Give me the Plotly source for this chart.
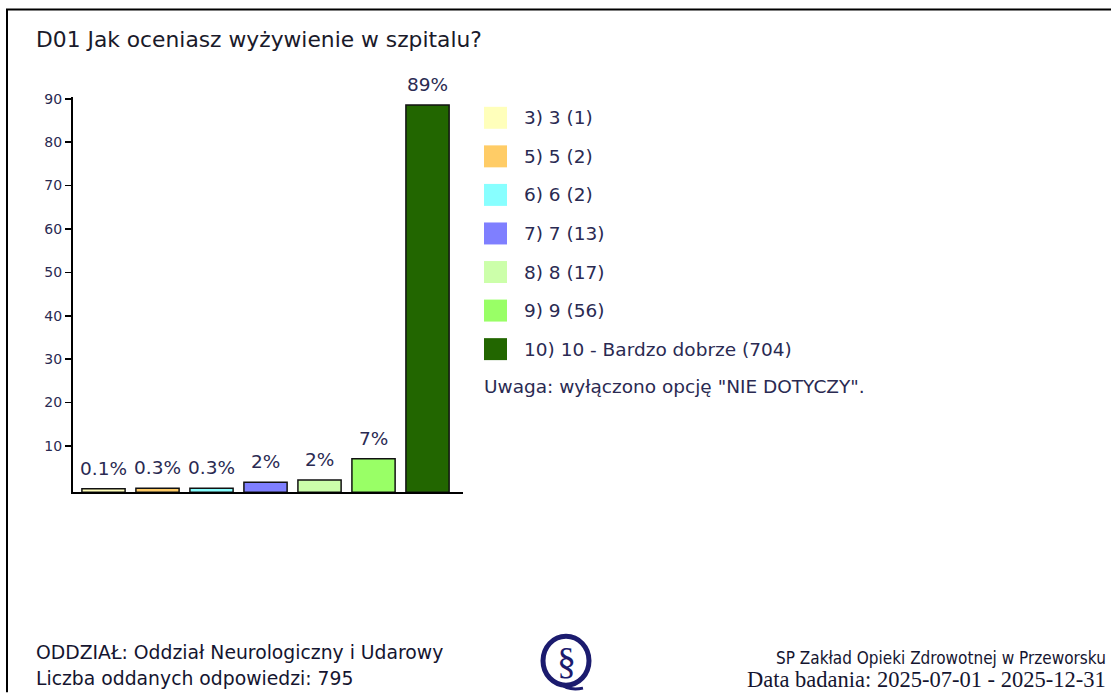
import plotly.graph_objects as go

W, H = 1111, 693

# ---- data ----
categories = ["3) 3", "5) 5", "6) 6", "7) 7", "8) 8", "9) 9", "10) 10 - Bardzo dobrze"]
counts = [1, 2, 2, 13, 17, 56, 704]
percent_values = [0.13, 0.25, 0.25, 1.64, 2.14, 7.04, 88.55]
percent_labels = ["0.1%", "0.3%", "0.3%", "2%", "2%", "7%", "89%"]
colors = ["#FFFFBB", "#FFCC66", "#88FFFF", "#7F7FFF", "#CCFFAA", "#99FF66", "#226600"]
y_ticks = [10, 20, 30, 40, 50, 60, 70, 80, 90]

title_text = "D01 Jak oceniasz wyżywienie w szpitalu?"
note_text = 'Uwaga: wyłączono opcję "NIE DOTYCZY".'
footer_left = ["ODDZIAŁ: Oddział Neurologiczny i Udarowy", "Liczba oddanych odpowiedzi: 795"]
footer_right_1 = "SP Zakład Opieki Zdrowotnej w Przeworsku"
footer_right_2 = "Data badania: 2025-07-01 - 2025-12-31"

TXT = "#2a2a52"
FONT = "DejaVu Sans"
Y_MIN = -0.7


def px(x):
    return x / W


def py(y):
    # compensate observed vertical mapping of the renderer
    y2 = (y - 6.07) / 0.9925
    return 1 - y2 / H


x_idx = list(range(len(categories)))

fig = go.Figure()
fig.add_trace(go.Bar(
    x=x_idx, y=[v - Y_MIN for v in percent_values], base=Y_MIN, width=0.8,
    marker=dict(color=colors, line=dict(color="#111111", width=1.5)),
    showlegend=False, hoverinfo="skip",
))

annotations = []
shapes = []

# bar value labels
for i, (v, lab) in enumerate(zip(percent_values, percent_labels)):
    annotations.append(dict(x=i, y=v, xref="x", yref="y", text=lab, showarrow=False,
                            yanchor="bottom", yshift=8,
                            font=dict(family=FONT, size=18.5, color=TXT)))

# title
annotations.append(dict(x=px(34), y=py(40), xref="paper", yref="paper", text=title_text,
                        showarrow=False, xanchor="left", yanchor="middle",
                        font=dict(family=FONT, size=21.8, color="#1a1a2a")))

# legend built from data
for i, (cat, cnt, col) in enumerate(zip(categories, counts, colors)):
    yc = 118 + i * 38.6
    shapes.append(dict(type="rect", xref="paper", yref="paper",
                       x0=px(484), x1=px(507), y0=py(yc - 11), y1=py(yc + 11),
                       fillcolor=col, line=dict(width=0)))
    annotations.append(dict(x=px(522), y=py(yc), xref="paper", yref="paper",
                            text=f"{cat} ({cnt})", showarrow=False,
                            xanchor="left", yanchor="middle",
                            font=dict(family=FONT, size=18.5, color=TXT)))
annotations.append(dict(x=px(482), y=py(387), xref="paper", yref="paper", text=note_text,
                        showarrow=False, xanchor="left", yanchor="middle",
                        font=dict(family=FONT, size=18.5, color=TXT)))

# footer
for j, t in enumerate(footer_left):
    annotations.append(dict(x=px(34), y=py(653 + j * 26), xref="paper", yref="paper", text=t,
                            showarrow=False, xanchor="left", yanchor="middle",
                            font=dict(family=FONT, size=18.8, color="#151530")))
annotations.append(dict(x=px(1108), y=py(659), xref="paper", yref="paper", text=footer_right_1,
                        showarrow=False, xanchor="right", yanchor="middle",
                        font=dict(family="DejaVu Sans Condensed, DejaVu Sans", size=17, color="#151530")))
annotations.append(dict(x=px(1108), y=py(680), xref="paper", yref="paper", text=footer_right_2,
                        showarrow=False, xanchor="right", yanchor="middle",
                        font=dict(family="Liberation Serif", size=22.5, color="#151530")))

# logo (Q with coil)
navy = "#1b1b6e"
shapes.append(dict(type="circle", xref="paper", yref="paper",
                   x0=px(543), x1=px(589), y0=py(637), y1=py(686),
                   line=dict(color=navy, width=5), fillcolor="rgba(0,0,0,0)"))
shapes.append(dict(type="path", xref="paper", yref="paper",
                   path=f"M {px(560)} {py(684)} Q {px(568)} {py(692)} {px(583)} {py(689)}",
                   line=dict(color=navy, width=3)))
annotations.append(dict(x=px(566), y=py(662), xref="paper", yref="paper", text="§",
                        showarrow=False, xanchor="center", yanchor="middle",
                        font=dict(family="Liberation Serif", size=38, color=navy)))

# frame
shapes.append(dict(type="path", xref="paper", yref="paper",
                   path=f"M {px(7)} {py(693)} L {px(7)} {py(9.5)} L {px(1111)} {py(9.5)}",
                   line=dict(color="#000000", width=2)))

fig.update_layout(
    width=W, height=H,
    margin=dict(l=0, r=0, t=0, b=0, pad=0),
    paper_bgcolor="white", plot_bgcolor="white",
    xaxis=dict(domain=[px(73), px(463)], range=[-0.565, 6.657],
               showticklabels=False, ticks="", showgrid=False, zeroline=False,
               showline=True, linecolor="#000000", linewidth=2, fixedrange=True),
    yaxis=dict(domain=[py(493), py(96.8)], range=[Y_MIN, 90.5],
               tickvals=y_ticks, ticks="outside", ticklen=6, tickwidth=1.5, tickcolor="#000000",
               showgrid=False, zeroline=False, showline=True, linecolor="#000000", linewidth=2,
               tickfont=dict(family=FONT, size=14, color=TXT), fixedrange=True),
    annotations=annotations,
    shapes=shapes,
    bargap=0,
)

fig.write_html(
    "out.html",
    config={"displayModeBar": False, "staticPlot": True},
    post_script=(
        "document.documentElement.style.margin='0';"
        "document.body.style.margin='0';document.body.style.padding='0';"
        "document.documentElement.style.overflow='hidden';"
        "var d=document.getElementById('{plot_id}');"
        "d.style.position='fixed';d.style.top='0px';d.style.left='0px';"
    ),
)
